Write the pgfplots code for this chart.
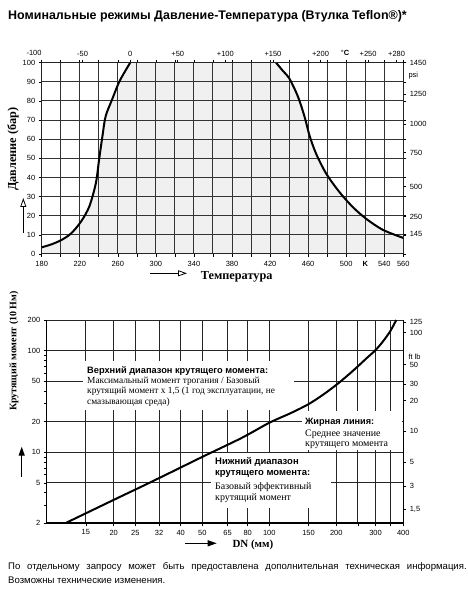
\documentclass[border=0pt]{standalone}
\usepackage{pgfplots}
\pgfplotsset{compat=1.18}
\usepackage{fontspec}
\setmainfont{Liberation Sans}
\newfontfamily\serif{Liberation Serif}
\usetikzlibrary{arrows.meta}
\pgfplotsset{
  tlab/.style={font=\fontsize{7.5}{8}\selectfont},
  /pgf/number format/assume math mode=true,
}
\begin{document}
\begin{tikzpicture}
\path (0bp,0bp) rectangle (468bp,595bp);
% title
\node[anchor=west, inner sep=0pt, font=\fontsize{12.5}{14}\selectfont\bfseries] at (8bp,579bp) {Номинальные режимы Давление-Температура (Втулка Teflon®)*};

% ===== top chart =====
\begin{axis}[at={(41.7bp,341bp)}, anchor=south west, scale only axis,
  width=361.6bp, height=191.3bp, set layers,
  xmin=180, xmax=560, ymin=0, ymax=100,
  xtick={180,200,...,560},
  xticklabels={180,,220,,260,,300,,340,,380,,420,,460,,500,\textbf{K},540,560},
  ytick={0,10,...,100},
  grid=major, grid style={black!80, line width=1bp},
  axis line style={black!85, line width=1bp},
  tick style={black, line width=0.6bp}, major tick length=3bp,
  tick align=outside,
  ticklabel style={tlab}, xticklabel style={yshift=-1bp},
  ]
\addplot[on layer=axis background, fill=black!6, draw=none] coordinates {
 (180,3.5) (190,5) (200.7,7.3) (211,10.8) (221.4,17) (230,24.8) (236.9,37) (240.3,49.3) (243.8,61.5) (247.2,72) (254,80.8) (261,89.5) (267,95) (273,100)
 (426.3,100) (433,96) (440.4,91.6) (449.1,82.5) (456.1,72) (461.4,62) (468.4,52.4) (479,42) (493,32.3) (507,24.5) (521,18.4) (538.6,12.6) (560,8.4)
 } \closedcycle;
\addplot[black, line width=2bp, smooth] coordinates {
 (180,3.5) (190,5) (200.7,7.3) (211,10.8) (221.4,17) (230,24.8) (236.9,37) (240.3,49.3) (243.8,61.5) (247.2,72) (254,80.8) (261,89.5) (267,95) (273,100)};
\addplot[black, line width=2bp, smooth] coordinates {
 (426.3,100) (433,96) (440.4,91.6) (449.1,82.5) (456.1,72) (461.4,62) (468.4,52.4) (479,42) (493,32.3) (507,24.5) (521,18.4) (538.6,12.6) (560,8.4)};
\end{axis}
% top Celsius axis and right psi axis
\begin{axis}[at={(41.7bp,341bp)}, anchor=south west, scale only axis,
  width=361.6bp, height=191.3bp,
  xmin=180, xmax=560, ymin=0, ymax=100,
  axis x line*=top, axis y line*=right,
  axis line style={black!85, line width=1bp},
  xtick={223,273,323,373,423,473,523,553},
  xticklabels={-50,0,+50,+100,+150,+200,+250,+280},
  ytick={10.5,19.5,35.2,53,68,83.6,100},
  yticklabels={145,250,500,750,1000,1250,1450},
  tick style={black, line width=0.6bp}, major tick length=3bp,
  tick align=outside,
  ticklabel style={tlab},
  ]
\end{axis}
\node[font=\fontsize{7.5}{8}\selectfont] at (34bp,542bp) {-100};
\node[font=\fontsize{7.5}{8}\selectfont] at (345bp,542bp) {°\textbf{C}};
\node[anchor=west, font=\fontsize{7.5}{8}\selectfont] at (405bp,519bp) {psi};
% axis titles top
\node[rotate=90, font=\fontsize{12.3}{14}\serif\bfseries] at (13bp,446bp) {Давление (бар)};
\draw[line width=0.8bp, -{Triangle[open, length=9bp, width=6bp]}] (23.3bp,362bp) -- (23.3bp,397bp);
\draw[line width=0.8bp, -{Triangle[open, length=9bp, width=6bp]}] (150bp,321.7bp) -- (187bp,321.7bp);
\node[font=\fontsize{12.3}{14}\serif\bfseries] at (236.7bp,318bp) {Температура};

% ===== bottom chart =====
\begin{axis}[at={(46.7bp,71.7bp)}, anchor=south west, scale only axis,
  width=356.6bp, height=203.3bp,
  xmode=log, ymode=log, xmin=10, xmax=400, ymin=2, ymax=200,
  axis x line*=bottom, axis y line*=left,
  x axis line style={line width=1.6bp}, y axis line style={line width=1bp},
  separate axis lines,
  xtick={15,20,25,32,40,50,65,80,100,150,200,250,300,350,400},
  xticklabels={15,20,25,32,40,50,65,80,100,150,200,,300,,400},
  ytick={2,5,10,20,50,100,200},
  yticklabels={2,5,10,20,50,100,200},
  minor ytick={3,4,6,7,8,9,30,40,60,70,80,90},
  grid=major, grid style={black!85, line width=0.9bp},
  tick style={black, line width=0.6bp}, major tick length=3bp, minor tick length=2.5bp,
  tick align=outside,
  ticklabel style={tlab},
  ]
\end{axis}
% white text boxes
\fill[white] (83bp,185bp) rectangle (294bp,234bp);
\fill[white] (302bp,144.6bp) rectangle (401.5bp,183.5bp);
\fill[white] (211bp,87bp) rectangle (331bp,142.2bp);
\begin{scope}[every node/.style={anchor=west, inner sep=0pt}]
\node[font=\fontsize{9.3}{10}\selectfont\bfseries] at (87bp,224.3bp) {Верхний диапазон крутящего момента:};
\node[font=\fontsize{9.4}{10}\serif] at (87bp,214bp) {Максимальный момент трогания / Базовый};
\node[font=\fontsize{9.4}{10}\serif] at (87bp,204bp) {крутящий момент x 1,5 (1 год эксплуатации, не};
\node[font=\fontsize{9.4}{10}\serif] at (87bp,193bp) {смазывающая среда)};
\node[font=\fontsize{9.2}{10}\selectfont\bfseries] at (305bp,173bp) {Жирная линия:};
\node[font=\fontsize{10}{11}\serif] at (305bp,161bp) {Среднее значение};
\node[font=\fontsize{10}{11}\serif] at (305bp,149.7bp) {крутящего момента};
\node[font=\fontsize{9.5}{10}\selectfont\bfseries] at (215bp,133bp) {Нижний диапазон};
\node[font=\fontsize{9.5}{10}\selectfont\bfseries] at (215bp,121.3bp) {крутящего момента:};
\node[font=\fontsize{10}{11}\serif] at (215bp,108bp) {Базовый эффективный};
\node[font=\fontsize{10}{11}\serif] at (215bp,97bp) {крутящий момент};
\end{scope}
% right ft lb axis + curve
\begin{axis}[at={(46.7bp,71.7bp)}, anchor=south west, scale only axis,
  width=356.6bp, height=203.3bp,
  xmode=log, ymode=log, xmin=10, xmax=400, ymin=2, ymax=200,
  axis x line=none, axis y line*=right,
  axis line style={black, line width=1bp},
  ytick={190.6,150.7,73,46.9,32.3,16.2,8.0,4.62,2.76},
  yticklabels={125,100,50,30,20,10,5,3,{1,5}},
  tick style={black, line width=0.6bp}, major tick length=3bp,
  tick align=outside,
  ticklabel style={tlab},
  ]
\addplot[black, line width=2bp, smooth] coordinates {
 (12.1,2) (20,3.4) (30,5.2) (50,9.0) (75,13.8) (100,19.5) (125,24.3) (150,29.7) (175,37) (200,46) (225,57) (250,70) (275,85) (300,101) (325,124) (350,156) (372,200)};
\end{axis}
\node[anchor=west, font=\fontsize{7.5}{8}\selectfont] at (405bp,238.3bp) {ft lb};
\node[rotate=90, font=\fontsize{10}{12}\serif\bfseries] at (14bp,244bp) {Крутящий момент (10 Нм)};
\draw[line width=1.2bp, -{Triangle[length=9bp, width=6bp]}] (21.7bp,118.3bp) -- (21.7bp,148.3bp);
\draw[line width=1.2bp, -{Triangle[length=9bp, width=6bp]}] (185bp,51.7bp) -- (216.7bp,51.7bp);
\node[anchor=west, font=\fontsize{11}{12}\serif\bfseries] at (229bp,50.5bp) {DN (мм)};

% footer
\node[anchor=west, inner sep=0pt, font=\fontsize{9.6}{11}\selectfont] at (8bp,28.3bp) {\makebox[458.5bp][s]{По отдельному запросу может быть предоставлена дополнительная техническая информация.}};
\node[anchor=west, inner sep=0pt, font=\fontsize{9.6}{11}\selectfont] at (8bp,15bp) {Возможны технические изменения.};
\end{tikzpicture}
\end{document}
